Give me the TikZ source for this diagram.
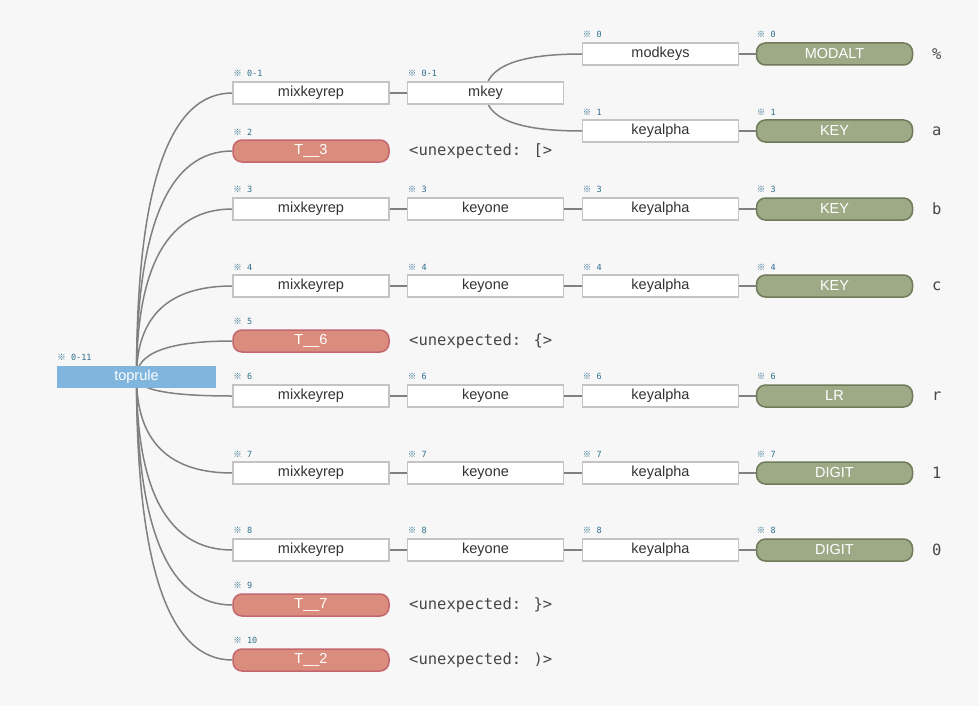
\documentclass[tikz,border=0pt]{standalone}
\usepackage{fontspec}
\setmainfont{Liberation Sans}
\newfontfamily\monofont{DejaVu Sans Mono}
\newfontfamily\markfont{Noto Sans CJK SC}
\usetikzlibrary{positioning, calc, backgrounds}

\definecolor{bgc}{HTML}{F7F7F7}
\definecolor{linec}{HTML}{808080}
\definecolor{boxline}{HTML}{C4C4C4}
\definecolor{rootc}{HTML}{80B6DE}
\definecolor{tokred}{HTML}{DB8D7D}
\definecolor{tokredline}{HTML}{C4666F}
\definecolor{tokgreen}{HTML}{9EA986}
\definecolor{tokgreenline}{HTML}{6F7A58}
\definecolor{labc}{HTML}{2F6F8F}
\definecolor{txtc}{HTML}{333333}

% reference mark + span
\newcommand\spanmark[1]{{\markfont ※} #1}
% quadratic-like link: vertical out of the parent, horizontal into the child
\newcommand\treelink[2]{%
  \draw[link] (#1.center) .. controls ($(#1.center)!2/3!(#1.center|-#2.west)$)
    and ($(#2.west)!2/3!(#1.center|-#2.west)$) .. (#2.west);}

\begin{document}
\begin{tikzpicture}[
  x=1pt, y=-1pt,
  rulebox/.style={draw=boxline, line width=1.5pt, fill=white,
                  minimum width=156pt, minimum height=22pt, inner sep=0pt,
                  font=\fontsize{14.5}{16}\selectfont, text=txtc},
  redtok/.style={rulebox, draw=tokredline, fill=tokred, text=white,
                 rounded corners=9pt},
  greentok/.style={rulebox, draw=tokgreenline, fill=tokgreen, text=white,
                   rounded corners=9pt},
  rootbox/.style={rulebox, draw=none, fill=rootc, text=white,
                  minimum width=159pt},
  lbl/.style={font=\monofont\fontsize{8.5}{9}\selectfont, text=labc,
              inner sep=0pt, anchor=south west, xshift=1pt, yshift=4pt},
  lexeme/.style={font=\monofont\fontsize{15.5}{17}\selectfont, text=txtc!90,
                 anchor=west, inner sep=0pt},
  link/.style={draw=linec, line width=1.5pt}
]
\useasboundingbox (0,0) rectangle (979,706);

% root
\node[rootbox, label={[lbl]north west:\spanmark{0-11}}] (top) at (136.5,377) {toprule};

% row 0/1 : mkey with two children
\node[rulebox, label={[lbl]north west:\spanmark{0-1}}] (m0) at (311,93) {mixkeyrep};
\node[rulebox, label={[lbl]north west:\spanmark{0-1}}] (o0) at (485.5,93) {mkey};
\node[rulebox, label={[lbl]north west:\spanmark{0}}] (a0) at (660.5,54) {modkeys};
\node[greentok, label={[lbl]north west:\spanmark{0}}] (k0) at (834.5,54) {MODALT};
\node[lexeme] (x0) at (932,54) {\%};
\node[rulebox, label={[lbl]north west:\spanmark{1}}] (a1) at (660.5,131) {keyalpha};
\node[greentok, label={[lbl]north west:\spanmark{1}}] (k1) at (834.5,131) {KEY};
\node[lexeme] (x1) at (932,131) {a};

% regular key rows
\foreach \i/\y/\tok/\ch in {3/209/KEY/b, 4/286/KEY/c, 6/396/LR/r,
                            7/473/DIGIT/1, 8/550/DIGIT/0} {
  \node[rulebox, label={[lbl]north west:\spanmark{\i}}] (m\i) at (311,\y) {mixkeyrep};
  \node[rulebox, label={[lbl]north west:\spanmark{\i}}] (o\i) at (485.5,\y) {keyone};
  \node[rulebox, label={[lbl]north west:\spanmark{\i}}] (a\i) at (660.5,\y) {keyalpha};
  \node[greentok, label={[lbl]north west:\spanmark{\i}}] (k\i) at (834.5,\y) {\tok};
  \node[lexeme] (x\i) at (932,\y) {\ch};
}

% error tokens
\foreach \i/\y/\tok/\ch in {2/151/T\_\_3/[, 5/341/T\_\_6/\{,
                            9/605/T\_\_7/\}, 10/660/T\_\_2/)} {
  \node[redtok, label={[lbl]north west:\spanmark{\i}}] (m\i) at (311,\y) {\tok};
  \node[lexeme] (u\i) at (409,\y) {<unexpected: \ch>};
}

\begin{scope}[on background layer]
\fill[bgc] (0,0) rectangle (979,706);
\foreach \i in {0,2,3,4,5,6,7,8,9,10} {\treelink{top}{m\i}}
\treelink{m0}{o0}
\treelink{o0}{a0}
\treelink{o0}{a1}
\treelink{a0}{k0}
\treelink{a1}{k1}
\foreach \i in {3,4,6,7,8} {
  \treelink{m\i}{o\i}
  \treelink{o\i}{a\i}
  \treelink{a\i}{k\i}
}
\end{scope}
\end{tikzpicture}
\end{document}
